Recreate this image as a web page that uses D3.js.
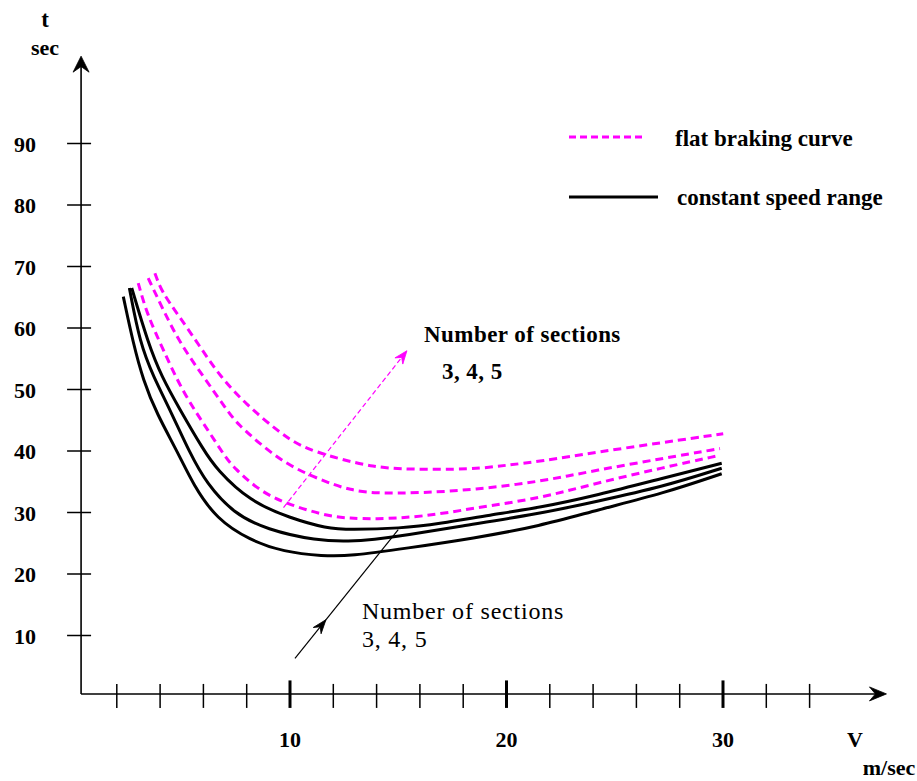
<!DOCTYPE html>
<html>
<head>
<meta charset="utf-8">
<script src="https://cdn.jsdelivr.net/npm/d3@7"></script>
<style>
  html, body { margin: 0; padding: 0; background: #fff; }
  svg { display: block; }
  text { font-family: "Liberation Serif", "Times New Roman", serif; fill: #000; }
</style>
</head>
<body>
<svg id="chart" width="917" height="781"></svg>
<script>
// ---------- DATA ----------
// x: speed V (m/sec), y: time t (sec)
const xTicks = [2, 4, 6, 8, 10, 12, 14, 16, 18, 20, 22, 24, 26, 28, 30, 32, 34];
const xMajorLabels = [10, 20, 30];
const yTicks = [10, 20, 30, 40, 50, 60, 70, 80, 90];

// constant speed range (solid black), number of sections 3, 4, 5
const const3V = [2.30, 2.76, 3.22, 3.84, 4.83, 5.53, 6.61, 8.15, 9.69, 11.54, 12.77, 15.39, 18.47, 21.55, 24.17, 27.24, 29.94];
const const3T = [65.1, 57.5, 51.5, 46.1, 39.7, 34.5, 28.9, 25.5, 23.6, 22.9, 22.9, 24.2, 25.8, 27.8, 30.4, 33.1, 36.3];

const const4V = [2.58, 3.07, 3.69, 4.46, 5.38, 6.15, 7.38, 8.92, 11.23, 12.77, 13.83, 15.39, 17.70, 21.55, 24.17, 27.24, 29.94];
const const4T = [66.5, 57.5, 52.1, 46.7, 39.6, 34.7, 29.9, 27.2, 25.4, 25.3, 25.6, 26.3, 27.7, 29.8, 31.8, 34.2, 37.2];

const const5V = [2.69, 3.45, 4.07, 4.92, 6.00, 6.61, 8.15, 10.00, 11.70, 12.77, 15.08, 16.93, 19.24, 21.55, 24.17, 27.24, 29.94];
const const5T = [66.5, 57.5, 52.1, 46.7, 40.2, 37.0, 31.8, 29.1, 27.4, 27.2, 27.4, 28.2, 29.6, 30.8, 32.8, 35.6, 38.0];

// flat braking curve (dashed magenta), number of sections 3, 4, 5
const flat3V = [2.99, 3.38, 4.15, 5.07, 6.30, 7.00, 7.38, 8.61, 10.00, 11.85, 12.77, 13.85, 16.16, 18.47, 21.55, 24.17, 27.24, 29.86];
const flat3T = [67.3, 62.4, 56.4, 49.4, 42.9, 39.1, 37.4, 33.4, 31.2, 29.3, 29.1, 28.9, 29.3, 30.7, 32.3, 34.8, 37.3, 39.3];

const flat4V = [3.45, 4.15, 4.92, 6.00, 7.08, 7.54, 8.92, 10.15, 11.85, 12.77, 13.85, 16.16, 18.47, 21.55, 24.17, 27.24, 29.86];
const flat4T = [68.1, 62.9, 57.5, 52.1, 46.7, 44.5, 40.2, 37.2, 34.7, 33.7, 33.1, 33.2, 33.7, 35.0, 36.9, 38.8, 40.4];

const flat5V = [3.76, 4.07, 4.84, 5.84, 6.77, 8.00, 9.38, 10.46, 12.16, 13.85, 15.39, 18.47, 20.01, 21.55, 24.17, 27.24, 30.01];
const flat5T = [68.9, 65.9, 62.1, 57.0, 52.1, 47.5, 43.4, 40.7, 38.8, 37.4, 37.0, 37.0, 37.7, 38.3, 39.8, 41.4, 42.8];

// annotations (data coordinates)
const flatArrowFrom = [9.7, 30.8];
const flatArrowTo = [15.4, 56.3];
const constArrowFrom = [10.23, 6.3];
const constArrowTo = [15.0, 27.2];
const constArrowHeadAt = 0.3; // fraction along the line
const flatNoteLines = ["Number of sections", "3, 4, 5"];
const flatNotePos = [[16.19, 57.7], [17.02, 51.7]];
const constNoteLines = ["Number of sections", "3, 4, 5"];
const constNotePos = [[13.32, 12.7], [13.32, 8.1]];
const legendLabels = ["flat braking curve", "constant speed range"];

// ---------- SCALES ----------
const svg = d3.select("#chart");
svg.append("rect").attr("width", 917).attr("height", 781).attr("fill", "#fff");

const x = d3.scaleLinear().domain([0, 10]).range([73.5, 290]);
const y = d3.scaleLinear().domain([0, 10]).range([697, 635.5]);

const axisX0 = x(0.35);      // y axis position
const axisY0 = y(0.5);       // x axis position
const xEnd = x(37.55);
const yEnd = y(104.2);

const magenta = "#ff00ff";

// ---------- AXES ----------
const axes = svg.append("g");
axes.append("line").attr("x1", axisX0).attr("y1", axisY0).attr("x2", xEnd - 6).attr("y2", axisY0)
  .attr("stroke", "#000").attr("stroke-width", 1.6);
axes.append("line").attr("x1", axisX0).attr("y1", axisY0).attr("x2", axisX0).attr("y2", yEnd + 6)
  .attr("stroke", "#000").attr("stroke-width", 1.6);

function arrowHead(g, tipX, tipY, angle, len, half, fill) {
  const p = d3.path();
  p.moveTo(0, 0);
  p.lineTo(-len, -half);
  p.lineTo(-len * 0.65, 0);
  p.lineTo(-len, half);
  p.closePath();
  g.append("path").attr("d", p.toString())
    .attr("transform", `translate(${tipX},${tipY}) rotate(${angle})`)
    .attr("fill", fill).attr("stroke", fill).attr("stroke-width", 0.8);
}
arrowHead(axes, xEnd, axisY0, 0, 17, 7, "#000");
arrowHead(axes, axisX0, yEnd, -90, 16, 8, "#000");

// x ticks
axes.selectAll("line.xt").data(xTicks).join("line").attr("class", "xt")
  .attr("x1", d => x(d)).attr("x2", d => x(d))
  .attr("y1", d => xMajorLabels.includes(d) ? axisY0 - 13.5 : axisY0 - 10)
  .attr("y2", axisY0 + 14)
  .attr("stroke", "#000")
  .attr("stroke-width", d => xMajorLabels.includes(d) ? 3 : 1.5);

axes.selectAll("text.xl").data(xMajorLabels).join("text").attr("class", "xl")
  .attr("x", d => x(d)).attr("y", 747)
  .attr("text-anchor", "middle").attr("font-size", 22).attr("font-weight", "bold")
  .text(d => d);

// y ticks
axes.selectAll("line.yt").data(yTicks).join("line").attr("class", "yt")
  .attr("x1", axisX0 - 14).attr("x2", axisX0 + 10)
  .attr("y1", d => y(d)).attr("y2", d => y(d))
  .attr("stroke", "#000").attr("stroke-width", 1.5);

axes.selectAll("text.yl").data(yTicks).join("text").attr("class", "yl")
  .attr("x", 36).attr("y", d => y(d) + 8)
  .attr("text-anchor", "end").attr("font-size", 22).attr("font-weight", "bold")
  .text(d => d);

// axis titles
axes.append("text").attr("x", 45).attr("y", 27).attr("text-anchor", "middle")
  .attr("font-size", 23).attr("font-weight", "bold").text("t");
axes.append("text").attr("x", 45).attr("y", 55).attr("text-anchor", "middle")
  .attr("font-size", 22).attr("font-weight", "bold").text("sec");
axes.append("text").attr("x", 855).attr("y", 747).attr("text-anchor", "middle")
  .attr("font-size", 22).attr("font-weight", "bold").text("V");
axes.append("text").attr("x", 889).attr("y", 775).attr("text-anchor", "middle")
  .attr("font-size", 22).attr("font-weight", "bold").text("m/sec");

// ---------- CURVES ----------
const line = d3.line().x(d => x(d[0])).y(d => y(d[1])).curve(d3.curveBasis);
const zip = (a, b) => a.map((v, i) => [v, b[i]]);

const flatSeries = [zip(flat3V, flat3T), zip(flat4V, flat4T), zip(flat5V, flat5T)];
const constSeries = [zip(const3V, const3T), zip(const4V, const4T), zip(const5V, const5T)];

svg.append("g").selectAll("path").data(flatSeries).join("path")
  .attr("d", line).attr("fill", "none")
  .attr("stroke", magenta).attr("stroke-width", 3)
  .attr("stroke-dasharray", "8,5");

svg.append("g").selectAll("path").data(constSeries).join("path")
  .attr("d", line).attr("fill", "none")
  .attr("stroke", "#000").attr("stroke-width", 3)
  .attr("stroke-linejoin", "round");

// ---------- ANNOTATIONS ----------
const ann = svg.append("g");
// magenta dashed arrow
{
  const x1 = x(flatArrowFrom[0]), y1 = y(flatArrowFrom[1]);
  const x2 = x(flatArrowTo[0]), y2 = y(flatArrowTo[1]);
  ann.append("line").attr("x1", x1).attr("y1", y1).attr("x2", x2).attr("y2", y2)
    .attr("stroke", magenta).attr("stroke-width", 1.2).attr("stroke-dasharray", "5,3");
  const ang = Math.atan2(y2 - y1, x2 - x1) * 180 / Math.PI;
  arrowHead(ann, x2, y2, ang, 13, 5, magenta);
}
// black arrow
{
  const x1 = x(constArrowFrom[0]), y1 = y(constArrowFrom[1]);
  const x2 = x(constArrowTo[0]), y2 = y(constArrowTo[1]);
  ann.append("line").attr("x1", x1).attr("y1", y1).attr("x2", x2).attr("y2", y2)
    .attr("stroke", "#000").attr("stroke-width", 1.2);
  const ang = Math.atan2(y2 - y1, x2 - x1) * 180 / Math.PI;
  const hx = x1 + (x2 - x1) * constArrowHeadAt, hy = y1 + (y2 - y1) * constArrowHeadAt;
  arrowHead(ann, hx, hy, ang, 14, 5, "#000");
}

ann.selectAll("text.fn").data(flatNoteLines).join("text").attr("class", "fn")
  .attr("x", (d, i) => x(flatNotePos[i][0])).attr("y", (d, i) => y(flatNotePos[i][1]))
  .attr("font-size", 23).attr("font-weight", "bold").attr("letter-spacing", 0.45).text(d => d);

ann.selectAll("text.cn").data(constNoteLines).join("text").attr("class", "cn")
  .attr("x", (d, i) => x(constNotePos[i][0])).attr("y", (d, i) => y(constNotePos[i][1]))
  .attr("font-size", 24).attr("letter-spacing", 0.8).text(d => d);

// ---------- LEGEND ----------
const lg = svg.append("g");
lg.append("line").attr("x1", 569).attr("y1", 137).attr("x2", 646).attr("y2", 137)
  .attr("stroke", magenta).attr("stroke-width", 3).attr("stroke-dasharray", "7,4");
lg.append("line").attr("x1", 569).attr("y1", 197).attr("x2", 658).attr("y2", 197)
  .attr("stroke", "#000").attr("stroke-width", 3);
lg.append("text").attr("x", 675).attr("y", 146).attr("font-size", 23).attr("font-weight", "bold").text(legendLabels[0]);
lg.append("text").attr("x", 677).attr("y", 205).attr("font-size", 23).attr("font-weight", "bold").text(legendLabels[1]);
</script>
</body>
</html>
